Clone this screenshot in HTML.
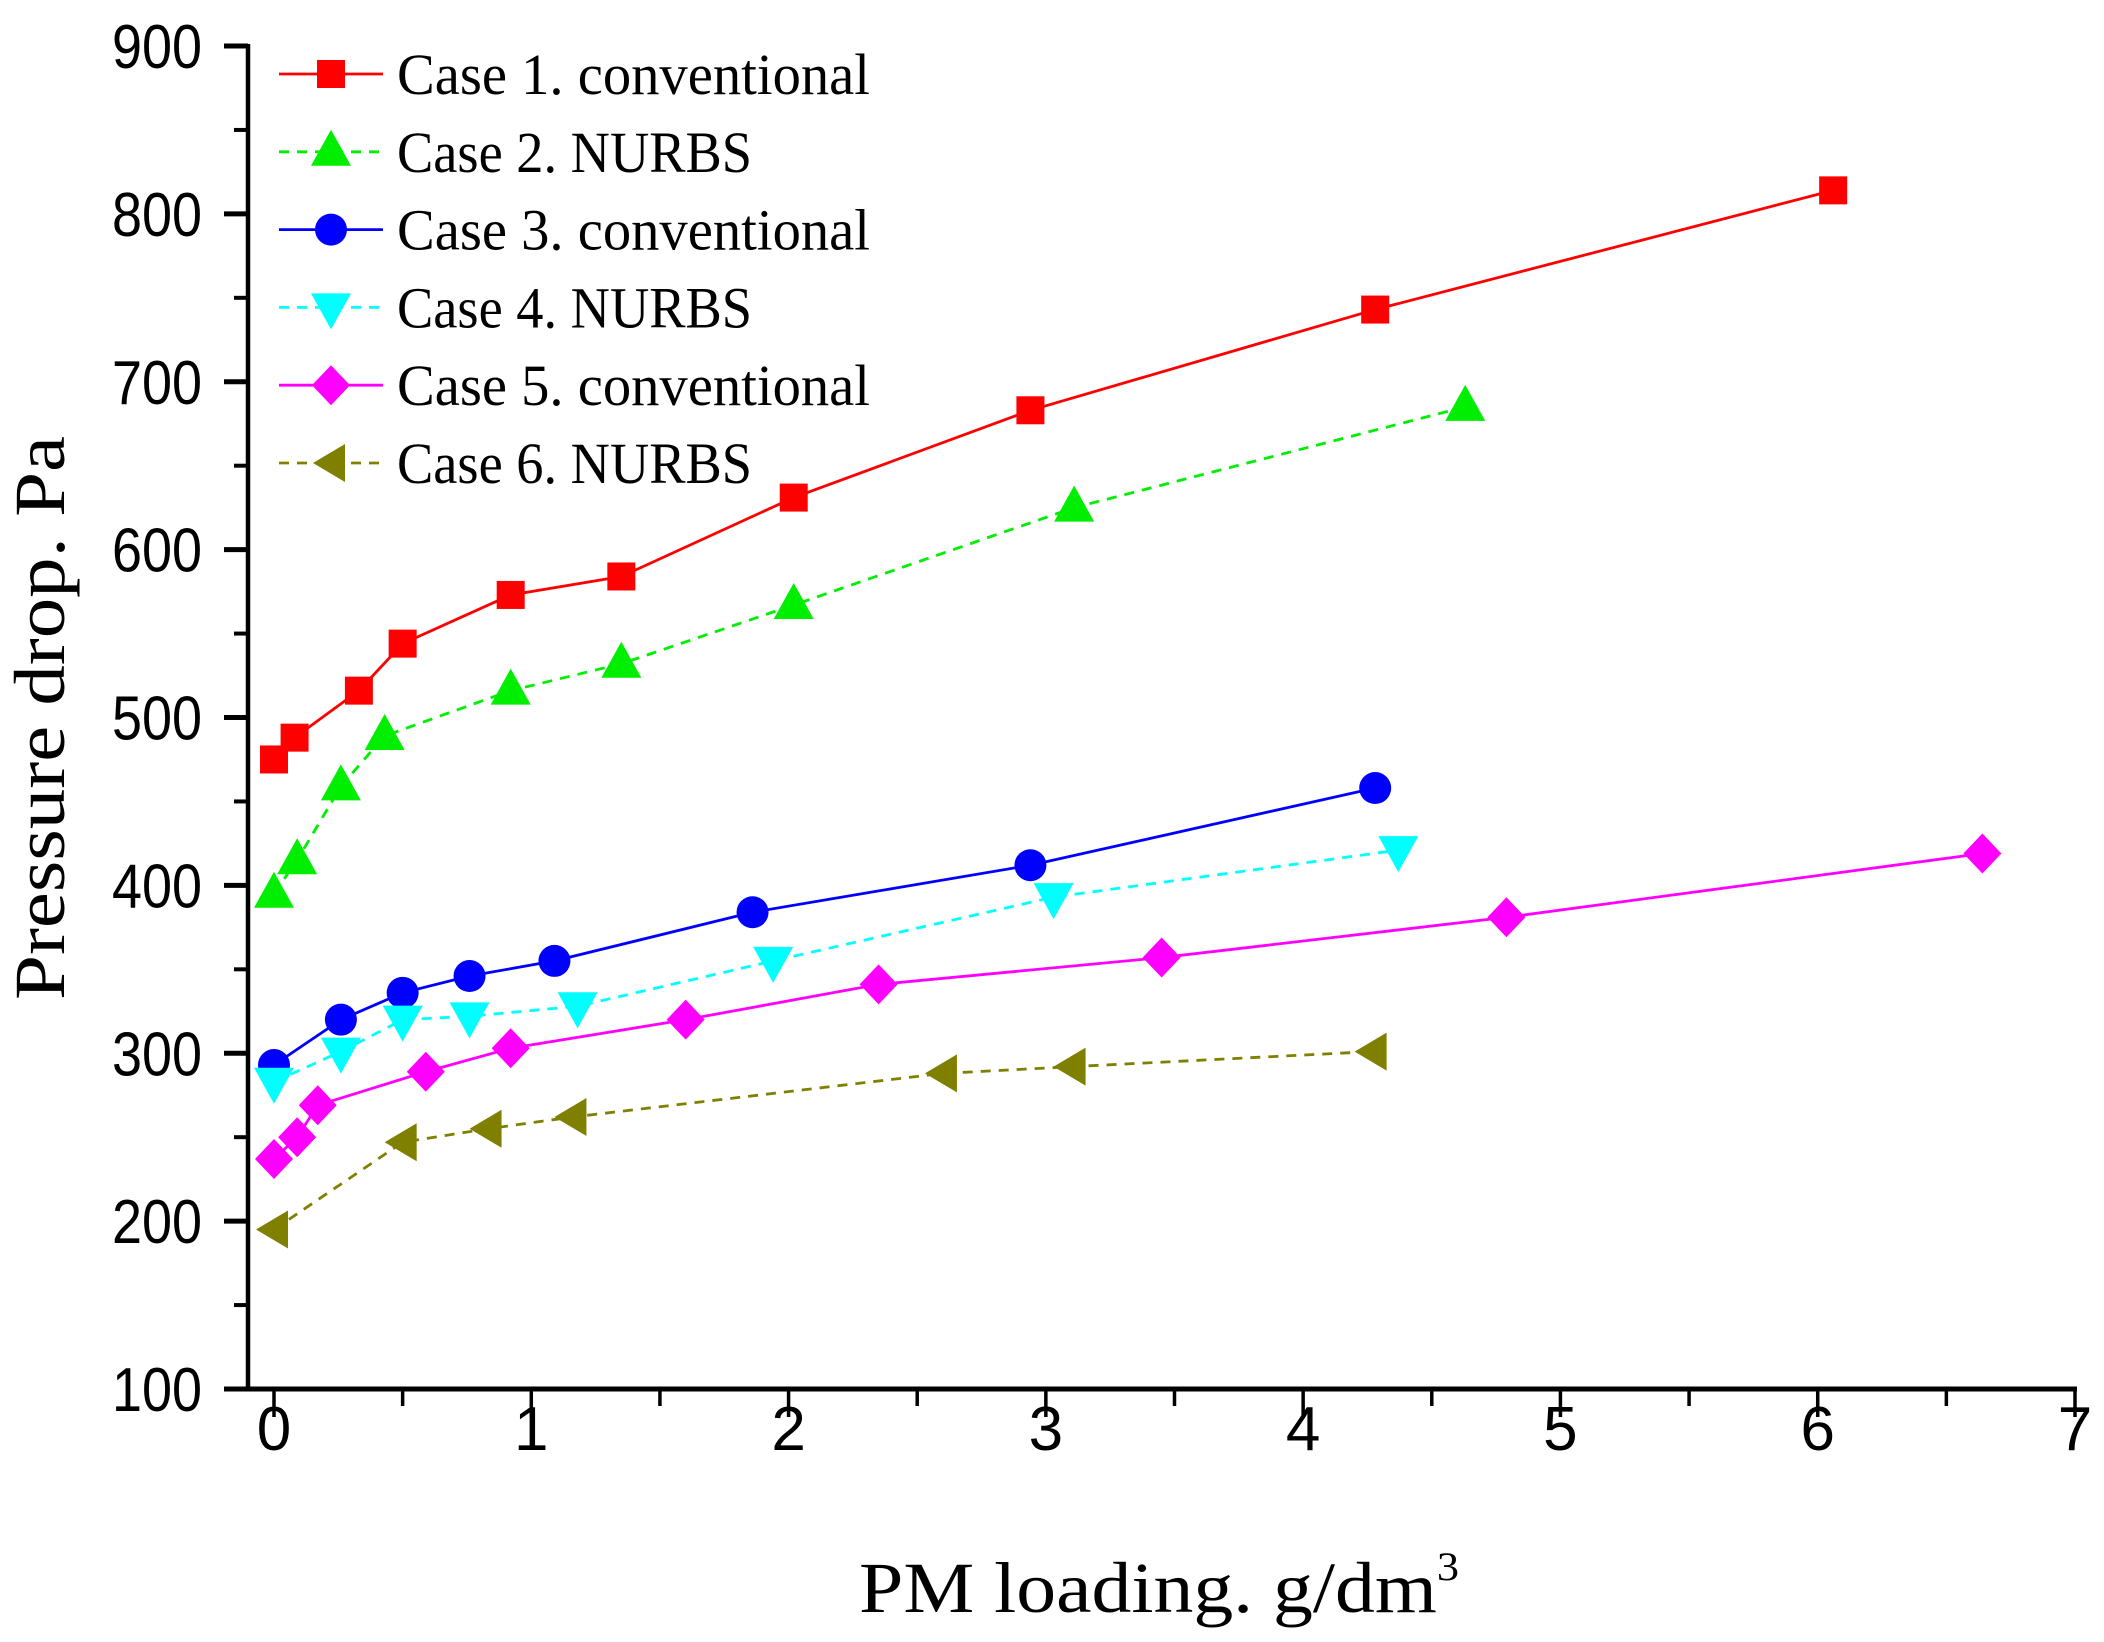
<!DOCTYPE html>
<html><head><meta charset="utf-8"><style>
html,body{margin:0;padding:0;background:#fff;}
svg{display:block;}
</style></head><body>
<svg id="chart" width="2104" height="1642" viewBox="0 0 2104 1642" xmlns="http://www.w3.org/2000/svg">
<g id="axes"></g>
<g id="series"></g>
<g id="legend"></g>
<text transform="translate(64,718) rotate(-90)" text-anchor="middle" font-family="Liberation Serif, serif" font-size="72" textLength="564" lengthAdjust="spacingAndGlyphs">Pressure drop. Pa</text>
<text x="859" y="1612" font-family="Liberation Serif, serif" font-size="72" textLength="600" lengthAdjust="spacingAndGlyphs">PM loading. g/dm<tspan dy="-32" font-size="40">3</tspan></text>
</svg>
<script>
const xTicks=[0,1,2,3,4,5,6,7];
const yTicks=[100,200,300,400,500,600,700,800,900];
const names=["Case 1. conventional","Case 2. NURBS","Case 3. conventional","Case 4. NURBS","Case 5. conventional","Case 6. NURBS"];
const colors=["#ff0000","#00ee00","#0000ff","#00ffff","#ff00ff","#808000"];
const dashed=[false,true,false,true,false,true];
const markers=["square","triangle-up","circle","triangle-down","diamond","triangle-left"];
const x1=[0,0.08,0.33,0.5,0.92,1.35,2.02,2.94,4.28,6.06];
const y1=[475,488,516,544,573,584,631,683,743,814];
const x2=[0,0.09,0.26,0.43,0.92,1.35,2.02,3.11,4.63];
const y2=[395,415,459,489,516,532,567,625,685];
const x3=[0,0.26,0.5,0.76,1.09,1.86,2.94,4.28];
const y3=[293,320,336,346,355,384,412,458];
const x4=[0,0.26,0.5,0.76,1.18,1.94,3.03,4.37];
const y4=[283,301,320,322,328,355,393,421];
const x5=[0,0.09,0.17,0.59,0.92,1.6,2.35,3.45,4.79,6.64];
const y5=[237,250,269,289,303,320,341,357,381,419];
const x6=[0,0.5,0.83,1.16,2.6,3.1,4.27];
const y6=[195,247,255,262,288,292,301];
const XS=[x1,x2,x3,x4,x5,x6], YS=[y1,y2,y3,y4,y5,y6];

const NS="http://www.w3.org/2000/svg";
const X0=274,X1=2075,Y0=1389,Y1=46;
function sx(v){return X0+(v-0)/(7-0)*(X1-X0);}
function sy(v){return Y0-(v-100)/(900-100)*(Y0-Y1);}
function mk(tag,attrs,parent){const e=document.createElementNS(NS,tag);for(const k in attrs)e.setAttribute(k,attrs[k]);parent.appendChild(e);return e;}
const axes=document.getElementById('axes');
let e;
e=mk('line',{x1:248,y1:Y1-2,x2:248,y2:Y0+2,stroke:'#000','stroke-width':4.5},axes);


e=mk('line',{x1:246,y1:Y0,x2:X1+2,y2:Y0,stroke:'#000','stroke-width':5},axes);


yTicks.forEach((t,i)=>{
  const y=sy(t);
  e=mk('line',{x1:224,y1:y,x2:248,y2:y,stroke:'#000','stroke-width':5},axes);
  
  
  e=mk('text',{x:202,y:y+22,'text-anchor':'end','font-family':'Liberation Sans, sans-serif','font-size':62,textLength:90,lengthAdjust:'spacingAndGlyphs'},axes);
  e.textContent=t;
  
  
  if(i<yTicks.length-1){
    const ym=sy(t+50);
    e=mk('line',{x1:234,y1:ym,x2:248,y2:ym,stroke:'#000','stroke-width':4},axes);
    
    
  }
});
xTicks.forEach((t,i)=>{
  const x=sx(t);
  e=mk('line',{x1:x,y1:Y0,x2:x,y2:Y0+28,stroke:'#000','stroke-width':3.5},axes);
  
  
  e=mk('text',{x:x,y:1450,'text-anchor':'middle','font-family':'Liberation Sans, sans-serif','font-size':62},axes);
  e.textContent=t;
  
  
  if(i<xTicks.length-1){
    const xm=sx(t+0.5);
    e=mk('line',{x1:xm,y1:Y0,x2:xm,y2:Y0+17,stroke:'#000','stroke-width':3.5},axes);
    
    
  }
});
function marker(type,cx,cy,color,parent){
  let m;
  if(type==='square') m=mk('rect',{x:cx-14,y:cy-14,width:28,height:28,fill:color},parent);
  else if(type==='circle') m=mk('ellipse',{cx:cx,cy:cy,rx:16,ry:16,fill:color},parent);
  else if(type==='triangle-up') m=mk('polygon',{points:`${cx},${cy-22} ${cx+20},${cy+14} ${cx-20},${cy+14}`,fill:color},parent);
  else if(type==='triangle-down') m=mk('polygon',{points:`${cx},${cy+22} ${cx+20},${cy-14} ${cx-20},${cy-14}`,fill:color},parent);
  else if(type==='diamond') m=mk('polygon',{points:`${cx},${cy-20} ${cx+19},${cy} ${cx},${cy+20} ${cx-19},${cy}`,fill:color},parent);
  else m=mk('polygon',{points:`${cx-18},${cy} ${cx+14},${cy-19} ${cx+14},${cy+19}`,fill:color},parent);
  return m;
}
const series=document.getElementById('series');
XS.forEach((xs,s)=>{
  const g=mk('g',{},series);
  
  
  const pts=xs.map((v,i)=>sx(v)+','+sy(YS[s][i])).join(' ');
  const attrs={points:pts,fill:'none',stroke:colors[s],'stroke-width':2.8};
  if(dashed[s]) attrs['stroke-dasharray']='10,8';
  const l=mk('polyline',attrs,g);
  
  
  xs.forEach((v,i)=>{
    const m=marker(markers[s],sx(v),sy(YS[s][i]),colors[s],g);
    
    
  });
});
const legend=document.getElementById('legend');
names.forEach((n,s)=>{
  const y=74+s*77.8;
  const g=mk('g',{},legend);
  
  
  const attrs={x1:279,y1:y,x2:383,y2:y,stroke:colors[s],'stroke-width':2.8};
  if(dashed[s]) attrs['stroke-dasharray']='10,8';
  mk('line',attrs,g);
  marker(markers[s],331,y,colors[s],g);
  const t=mk('text',{x:397,y:y+20,'font-family':'Liberation Serif, serif','font-size':58},g);
  t.textContent=n;
  if(n.indexOf('conventional')>=0){t.setAttribute('textLength',473);t.setAttribute('lengthAdjust','spacingAndGlyphs');}
  else {t.setAttribute('textLength',355);t.setAttribute('lengthAdjust','spacingAndGlyphs');}
});
</script>
</body></html>
